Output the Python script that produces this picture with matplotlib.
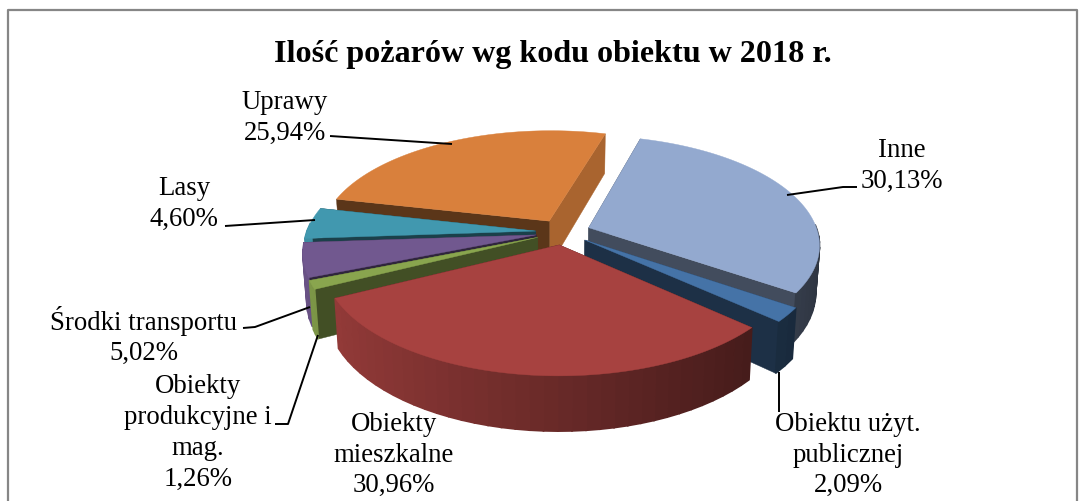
import matplotlib
matplotlib.use('Agg')
import matplotlib.pyplot as plt
from matplotlib.colors import to_rgb
import numpy as np

plt.rcParams['font.family'] = ['Liberation Serif', 'DejaVu Serif']

title = "Ilość pożarów wg kodu obiektu w 2018 r."

# clockwise from the start angle
categories = ["Inne", "Obiektu użyt.\npublicznej", "Obiekty\nmieszkalne",
              "Obiekty\nprodukcyjne i\nmag.", "Środki transportu", "Lasy", "Uprawy"]
values = [30.13, 2.09, 30.96, 1.26, 5.02, 4.60, 25.94]

colors = ["#93A9CF", "#4573A7", "#A74240", "#89A54E", "#71588F", "#4198AF", "#D9803C"]
start_angle = 16.0
explode = 0.12

# shading of the two cut faces (first edge, last edge)
cut_shade = [(0.45, 0.45), (0.42, 0.42), (0.42, 0.42), (0.48, 0.48),
             (0.42, 0.42), (0.42, 0.42), (0.42, 0.78)]

# back to front
draw_order = [6, 0, 5, 4, 3, 1, 2]

# label centre (px) and leader line (px)
label_pos = [(902, 166), (848, 455), (394, 455), (198, 433), (144, 336), (184, 204), (285, 118)]
leaders = [
    [(857, 187), (843, 187), (787, 195)],
    [(779, 372), (779, 412)],
    None,
    [(275, 424), (288, 424), (318, 335)],
    [(243, 328), (255, 327), (310, 307)],
    [(225, 226), (315, 220)],
    [(330, 136), (452, 144)],
]

# pie projection in pixels
cx, cy = 563, 232
rx, ry = 229, 107
persp = 0.15
depth = 46


def top_xy(u, v):
    den = 1 - persp * v
    return cx + rx * u / den, cy + ry * v / den


def bot_xy(u, v):
    x, y = top_xy(u, v)
    return cx + (x - cx) * 0.985, y + depth / (1 - persp * v)


def shade(col, f):
    return tuple(c * f for c in to_rgb(col))


fig = plt.figure(figsize=(10.86, 5.01), dpi=100)
ax = fig.add_axes([0, 0, 1, 1])
ax.set_xlim(0, 1086)
ax.set_ylim(501, 0)
ax.axis('off')

# chart frame
ax.plot([8, 8, 1077, 1077], [501, 10, 10, 501], color='#868686', lw=1.6)

edges = start_angle + np.concatenate([[0], np.cumsum(values)]) / sum(values) * 360

for i in draw_order:
    a1, a2 = np.radians(edges[i]), np.radians(edges[i + 1])
    mid = (a1 + a2) / 2
    ou, ov = explode * np.sin(mid), -explode * np.cos(mid)
    col = colors[i]

    # cut faces, the one lower on the page last
    faces = []
    for a, f in zip((a1, a2), cut_shade[i]):
        t = np.linspace(0, 1, 20)
        u = ou + t * np.sin(a)
        v = ov - t * np.cos(a)
        top = np.array(top_xy(u, v)).T
        bot = np.array(bot_xy(u, v)).T
        faces.append((top[:, 1].mean(), np.vstack([top, bot[::-1]]), f))
    for _, pts, f in sorted(faces, key=lambda p: p[0]):
        ax.fill(pts[:, 0], pts[:, 1], color=shade(col, f), lw=0.3)

    # outer wall, strips so it can get darker to the right
    angs = np.linspace(a1, a2, max(int((a2 - a1) * 20), 3))
    for b1, b2 in zip(angs[:-1], angs[1:]):
        if np.cos((b1 + b2) / 2) > 0.05:
            continue
        seg = np.array([b1, b2])
        u = ou + np.sin(seg)
        v = ov - np.cos(seg)
        tx, ty = top_xy(u, v)
        bx, by = bot_xy(u, v)
        f = 0.62 - 0.28 * u.mean()
        ax.fill([tx[0], tx[1], bx[1], bx[0]], [ty[0], ty[1], by[1], by[0]],
                color=shade(col, f), lw=1.2)

    # top
    angs = np.linspace(a1, a2, 80)
    u = np.concatenate([[ou], ou + np.sin(angs)])
    v = np.concatenate([[ov], ov - np.cos(angs)])
    tx, ty = top_xy(u, v)
    ax.fill(tx, ty, color=col, lw=0.3)

for line in leaders:
    if line is None:
        continue
    xs, ys = zip(*line)
    ax.plot(xs, ys, color='black', lw=1.4, zorder=5, solid_capstyle='butt')

ax.text(553, 54, title, ha='center', va='center', fontsize=23.1, fontweight='bold', color='black')

for name, val, (x, y) in zip(categories, values, label_pos):
    pct = f"{val:.2f}%".replace('.', ',')
    ax.text(x, y, f"{name}\n{pct}", ha='center', va='center', fontsize=19.3, color='black',
            linespacing=1.3, zorder=6)

fig.savefig('out.png', dpi=100)
